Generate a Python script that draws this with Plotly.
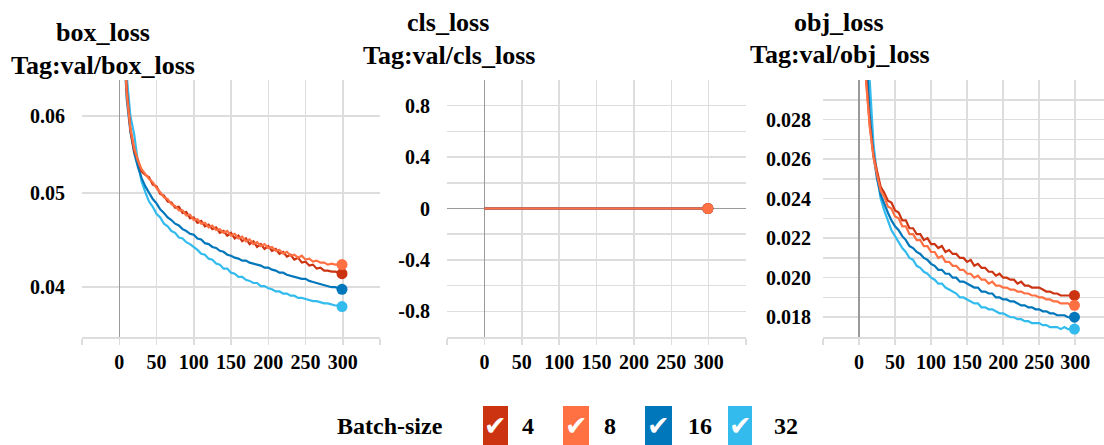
import plotly.graph_objects as go

W, H = 1104, 445

# ---------------- data ----------------
epochs = list(range(5, 300, 5)) + [299]
batch_sizes = ["4", "8", "16", "32"]
draw_order = ["32", "16", "4", "8"]
colors = {"4": "#cc3311", "8": "#ff7043", "16": "#0077bb", "32": "#33bbee"}

box_loss_4 = [0.0770, 0.0640, 0.0580, 0.0553, 0.0541, 0.0526, 0.0522, 0.0519, 0.0510, 0.0508,
              0.0499, 0.0497, 0.0490, 0.0489, 0.0483, 0.0484, 0.0477, 0.0478, 0.0471, 0.0472,
              0.0466, 0.0468, 0.0462, 0.0464, 0.0459, 0.0461, 0.0455, 0.0457, 0.0452, 0.0455,
              0.0449, 0.0452, 0.0446, 0.0449, 0.0443, 0.0446, 0.0440, 0.0443, 0.0438, 0.0441,
              0.0436, 0.0438, 0.0433, 0.0435, 0.0430, 0.0432, 0.0427, 0.0429, 0.0424, 0.0425,
              0.0421, 0.0422, 0.0418, 0.0419, 0.0416, 0.0416, 0.0415, 0.0415, 0.0414, 0.0413]
box_loss_8 = [0.0750, 0.0632, 0.0583, 0.0557, 0.0540, 0.0529, 0.0523, 0.0517, 0.0513, 0.0506,
              0.0501, 0.0495, 0.0493, 0.0487, 0.0485, 0.0480, 0.0480, 0.0474, 0.0475, 0.0469,
              0.0470, 0.0465, 0.0466, 0.0461, 0.0463, 0.0458, 0.0459, 0.0455, 0.0457, 0.0452,
              0.0454, 0.0449, 0.0451, 0.0446, 0.0448, 0.0443, 0.0445, 0.0441, 0.0443, 0.0439,
              0.0440, 0.0436, 0.0437, 0.0433, 0.0435, 0.0431, 0.0432, 0.0429, 0.0431, 0.0427,
              0.0428, 0.0425, 0.0426, 0.0424, 0.0424, 0.0422, 0.0423, 0.0422, 0.0422, 0.0422]
box_loss_16 = [0.0740, 0.0625, 0.0578, 0.0550, 0.0532, 0.0518, 0.0508, 0.0501, 0.0493, 0.0488,
               0.0481, 0.0477, 0.0472, 0.0469, 0.0465, 0.0463, 0.0459, 0.0457, 0.0454, 0.0453,
               0.0449, 0.0448, 0.0444, 0.0443, 0.0440, 0.0439, 0.0436, 0.0435, 0.0432, 0.0431,
               0.0429, 0.0428, 0.0426, 0.0426, 0.0424, 0.0423, 0.0422, 0.0421, 0.0419, 0.0419,
               0.0417, 0.0416, 0.0414, 0.0414, 0.0412, 0.0411, 0.0410, 0.0409, 0.0408, 0.0408,
               0.0406, 0.0405, 0.0404, 0.0403, 0.0402, 0.0401, 0.0400, 0.0400, 0.0399, 0.0398]
box_loss_32 = [0.0790, 0.0660, 0.0600, 0.0575, 0.0538, 0.0514, 0.0501, 0.0490, 0.0484, 0.0476,
               0.0472, 0.0465, 0.0462, 0.0457, 0.0455, 0.0450, 0.0449, 0.0445, 0.0443, 0.0440,
               0.0437, 0.0433, 0.0432, 0.0428, 0.0427, 0.0423, 0.0422, 0.0418, 0.0418, 0.0414,
               0.0413, 0.0410, 0.0410, 0.0407, 0.0406, 0.0404, 0.0404, 0.0401, 0.0401, 0.0399,
               0.0398, 0.0396, 0.0396, 0.0394, 0.0394, 0.0392, 0.0392, 0.0390, 0.0390, 0.0389,
               0.0388, 0.0387, 0.0387, 0.0386, 0.0385, 0.0385, 0.0384, 0.0383, 0.0383, 0.0382]

obj_loss_4 = [0.0340, 0.0300, 0.0277, 0.0262, 0.0254, 0.0246, 0.0243, 0.0239, 0.0238, 0.0234,
              0.0233, 0.0229, 0.0229, 0.0225, 0.0225, 0.0222, 0.0222, 0.0219, 0.0220, 0.0217,
              0.0217, 0.0215, 0.0216, 0.0213, 0.0214, 0.0212, 0.0212, 0.0210, 0.0210, 0.0208,
              0.0209, 0.0206, 0.0207, 0.0205, 0.0205, 0.0203, 0.0203, 0.0201, 0.0202, 0.0200,
              0.0200, 0.0199, 0.0199, 0.0197, 0.0198, 0.0196, 0.0196, 0.0195, 0.0195, 0.0195,
              0.0194, 0.0193, 0.0193, 0.0192, 0.0192, 0.0191, 0.0191, 0.0191, 0.0191, 0.0191]
obj_loss_8 = [0.0335, 0.0298, 0.0276, 0.0261, 0.0252, 0.0244, 0.0241, 0.0236, 0.0235, 0.0231,
              0.0230, 0.0226, 0.0226, 0.0222, 0.0222, 0.0219, 0.0219, 0.0216, 0.0216, 0.0213,
              0.0213, 0.0210, 0.0211, 0.0208, 0.0208, 0.0206, 0.0206, 0.0204, 0.0204, 0.0202,
              0.0202, 0.0200, 0.0201, 0.0199, 0.0199, 0.0197, 0.0198, 0.0196, 0.0196, 0.0195,
              0.0195, 0.0194, 0.0194, 0.0193, 0.0193, 0.0192, 0.0192, 0.0191, 0.0191, 0.0190,
              0.0190, 0.0189, 0.0189, 0.0188, 0.0188, 0.0187, 0.0187, 0.0187, 0.0186, 0.0186]
obj_loss_16 = [0.0345, 0.0310, 0.0282, 0.0262, 0.0250, 0.0242, 0.0237, 0.0233, 0.0229, 0.0226,
               0.0224, 0.0221, 0.0219, 0.0216, 0.0215, 0.0213, 0.0212, 0.0210, 0.0209, 0.0207,
               0.0206, 0.0204, 0.0204, 0.0202, 0.0202, 0.0200, 0.0200, 0.0198, 0.0198, 0.0197,
               0.0196, 0.0195, 0.0195, 0.0193, 0.0193, 0.0192, 0.0192, 0.0190, 0.0190, 0.0189,
               0.0189, 0.0188, 0.0188, 0.0187, 0.0186, 0.0186, 0.0185, 0.0185, 0.0184, 0.0184,
               0.0183, 0.0183, 0.0182, 0.0182, 0.0181, 0.0181, 0.0181, 0.0180, 0.0180, 0.0180]
obj_loss_32 = [0.0360, 0.0330, 0.0295, 0.0268, 0.0252, 0.0240, 0.0234, 0.0229, 0.0224, 0.0221,
               0.0218, 0.0215, 0.0213, 0.0210, 0.0209, 0.0206, 0.0205, 0.0203, 0.0202, 0.0200,
               0.0199, 0.0197, 0.0197, 0.0195, 0.0194, 0.0193, 0.0192, 0.0190, 0.0190, 0.0189,
               0.0188, 0.0187, 0.0187, 0.0185, 0.0185, 0.0184, 0.0184, 0.0183, 0.0182, 0.0182,
               0.0181, 0.0180, 0.0180, 0.0179, 0.0179, 0.0178, 0.0178, 0.0177, 0.0177, 0.0177,
               0.0176, 0.0176, 0.0175, 0.0175, 0.0175, 0.0174, 0.0175, 0.0174, 0.0174, 0.0174]

cls_epochs = [0, 299]
cls_loss_4 = [0.0, 0.0]
cls_loss_8 = [0.0, 0.0]
cls_loss_16 = [0.0, 0.0]
cls_loss_32 = [0.0, 0.0]

box_loss = {"4": box_loss_4, "8": box_loss_8, "16": box_loss_16, "32": box_loss_32}
obj_loss = {"4": obj_loss_4, "8": obj_loss_8, "16": obj_loss_16, "32": obj_loss_32}
cls_loss = {"4": cls_loss_4, "8": cls_loss_8, "16": cls_loss_16, "32": cls_loss_32}

x_grid = [-50, 0, 50, 100, 150, 200, 250, 300, 350]
x_labels = ["", "0", "50", "100", "150", "200", "250", "300", ""]

box_ticks = [0.04, 0.05, 0.06]
box_labels = ["0.04", "0.05", "0.06"]
cls_ticks = [-1.0, -0.8, -0.6, -0.4, -0.2, 0.0, 0.2, 0.4, 0.6, 0.8, 1.0]
cls_labels = ["", "-0.8", "", "-0.4", "", "0", "", "0.4", "", "0.8", ""]
obj_ticks = [0.017, 0.018, 0.019, 0.020, 0.021, 0.022, 0.023, 0.024, 0.025,
             0.026, 0.027, 0.028, 0.029, 0.030]
obj_labels = ["", "0.018", "", "0.020", "", "0.022", "", "0.024", "",
              "0.026", "", "0.028", "", ""]

titles = [("box_loss", "Tag:val/box_loss"),
          ("cls_loss", "Tag:val/cls_loss"),
          ("obj_loss", "Tag:val/obj_loss")]
legend_title = "Batch-size"

# ---------------- layout helpers ----------------
def fx(px):
    return px / W


def fy(py):
    return 1 - py / H


SERIF = "Liberation Serif"
GRID = "#dddddd"
tickfont = dict(family=SERIF, size=20, color="black", weight="bold")

fig = go.Figure()


def add_series(xs, series, xa, ya):
    for b in draw_order:
        ys = series[b]
        fig.add_trace(go.Scatter(
            x=xs, y=ys, mode="lines", xaxis=xa, yaxis=ya,
            line=dict(color=colors[b], width=2.2),
            showlegend=False, hoverinfo="skip"))
        fig.add_trace(go.Scatter(
            x=xs[-1:], y=ys[-1:], mode="markers", xaxis=xa, yaxis=ya,
            marker=dict(size=11, color=colors[b], opacity=1, line=dict(width=0)),
            showlegend=False, hoverinfo="skip", cliponaxis=False))


add_series(epochs, box_loss, "x", "y")
add_series(cls_epochs, cls_loss, "x2", "y2")
add_series(epochs, obj_loss, "x3", "y3")

ydom = [fy(337), fy(80)]


def xaxis(dom, rng):
    return dict(domain=dom, range=rng, tickmode="array", tickvals=x_grid, ticktext=x_labels,
                showgrid=True, gridcolor=GRID, gridwidth=1.5,
                zeroline=True, zerolinecolor="#9a9a9a", zerolinewidth=1.5,
                showline=True, linecolor=GRID, linewidth=1.5,
                ticks="outside", ticklen=6, tickcolor=GRID, tickwidth=1.5,
                ticklabelstandoff=0, tickfont=tickfont, fixedrange=True)


def yaxis(rng, tv, tt, standoff, **kw):
    d = dict(domain=ydom, range=rng, tickmode="array", tickvals=tv, ticktext=tt,
             showgrid=True, gridcolor=GRID, gridwidth=1.5, ticks="",
             ticklabelstandoff=standoff, tickfont=tickfont, fixedrange=True,
             showline=False)
    d.update(kw)
    return d


fig.update_layout(
    width=W, height=H, margin=dict(l=0, r=0, t=0, b=0),
    paper_bgcolor="white", plot_bgcolor="white", showlegend=False,
    xaxis=xaxis([fx(82), fx(380)], [-50, 350]),
    xaxis2=dict(xaxis([fx(447), fx(746)], [-50, 350]), anchor="y2"),
    xaxis3=dict(xaxis([fx(823), fx(1104)], [-50, 340]), anchor="y3"),
    yaxis=yaxis([-1.44922, -1.18462], box_ticks, box_labels, 16, type="log", zeroline=False),
    yaxis2=dict(yaxis([-1, 1], cls_ticks, cls_labels, 16, zeroline=True,
                      zerolinecolor="#9a9a9a", zerolinewidth=1.5), anchor="x2"),
    yaxis3=dict(yaxis([0.017, 0.030], obj_ticks, obj_labels, 11, zeroline=False), anchor="x3"),
)
fig.layout.xaxis.anchor = "y"
fig.layout.yaxis.anchor = "x"

# titles
title_pos = [((103, 32), (103, 65)), ((448, 23), (449, 56)), ((839, 23), (840, 55))]
for (t1, t2), ((x1, y1), (x2, y2)) in zip(titles, title_pos):
    for txt, x, y in ((t1, x1, y1), (t2, x2, y2)):
        fig.add_annotation(x=fx(x), y=fy(y), xref="paper", yref="paper",
                           text="<b>%s</b>" % txt, showarrow=False,
                           xanchor="center", yanchor="middle",
                           font=dict(family=SERIF, size=26, color="black"))

# custom checkbox legend
fig.add_annotation(x=fx(390), y=fy(426), xref="paper", yref="paper",
                   text="<b>%s</b>" % legend_title, showarrow=False,
                   xanchor="center", yanchor="middle",
                   font=dict(family=SERIF, size=24, color="black"))
box_x = {"4": (483, 508), "8": (563, 589), "16": (645, 672), "32": (728, 752)}
label_x = {"4": 528, "8": 609.5, "16": 700, "32": 785.5}
for b in batch_sizes:
    x0, x1 = box_x[b]
    fig.add_shape(type="rect", xref="paper", yref="paper",
                  x0=fx(x0), x1=fx(x1), y0=fy(450), y1=fy(406),
                  fillcolor=colors[b], line=dict(width=0), layer="above")
    fig.add_annotation(x=fx((x0 + x1) / 2), y=fy(425), xref="paper", yref="paper",
                       text="\u2714", showarrow=False, xanchor="center", yanchor="middle",
                       font=dict(family="DejaVu Sans", size=27, color="white"))
    fig.add_annotation(x=fx(label_x[b]), y=fy(426), xref="paper", yref="paper",
                       text="<b>%s</b>" % b, showarrow=False, xanchor="center",
                       yanchor="middle", font=dict(family=SERIF, size=24, color="black"))

fig.write_html("out.html", config={"displayModeBar": False, "staticPlot": True},
               post_script="document.body.style.margin='0';document.body.style.overflow='hidden';")
